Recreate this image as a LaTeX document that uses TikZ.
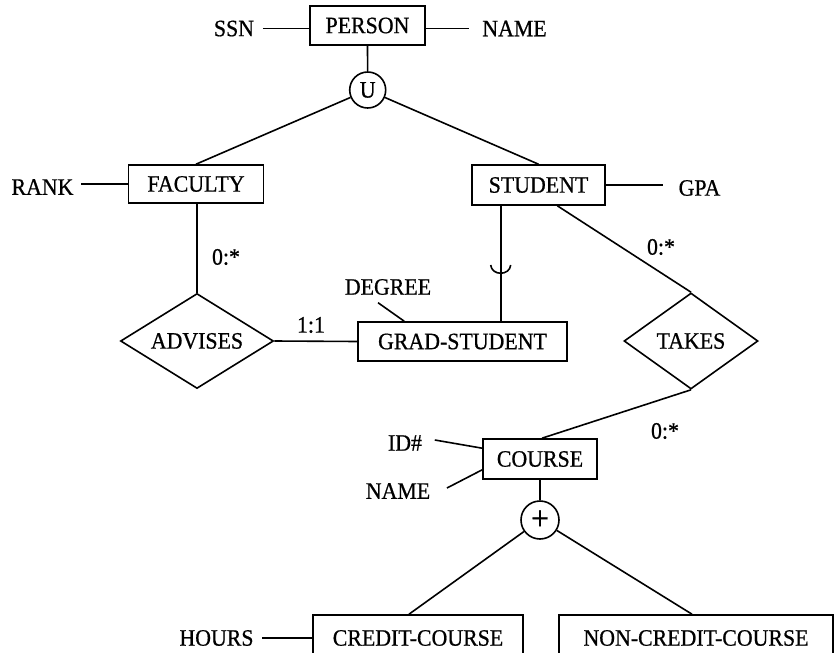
\documentclass[tikz,border=0pt]{standalone}
\usepackage{fontspec}
\setmainfont{Liberation Serif}[FakeBold=0.7,FakeStretch=0.93]
\usetikzlibrary{shapes.geometric,calc}
\begin{document}
\begin{tikzpicture}[x=1pt,y=-1pt,line width=1.6pt,
  every node/.style={font=\fontsize{23.5}{27}\selectfont},
  entity/.style={draw,rectangle,inner sep=0pt},
  rel/.style={draw,diamond,inner sep=0pt},
  gen/.style={draw,circle,inner sep=0pt},
  attr/.style={inner sep=0pt},
  card/.style={inner sep=0pt}]
\clip (0,0) rectangle (836,653);

% entities
\node[entity,minimum width=115pt,minimum height=39pt] (person) at (367.5,25.5) {PERSON};
\node[entity,minimum width=135pt,minimum height=38pt] (fac) at (196,184) {FACULTY};
\node[entity,minimum width=133pt,minimum height=40pt] (stu) at (538.5,185) {STUDENT};
\node[entity,minimum width=209pt,minimum height=39pt] (grad) at (462.5,341.5) {GRAD-STUDENT};
\node[entity,minimum width=114pt,minimum height=40pt] (course) at (540,459) {COURSE};
\node[entity,minimum width=210pt,minimum height=46pt] (cc) at (418,638) {CREDIT-COURSE};
\node[entity,minimum width=274pt,minimum height=46pt] (ncc) at (696,638) {NON-CREDIT-COURSE};

% relationships
\node[rel,aspect=1.6,minimum width=153pt,minimum height=95pt] (adv) at (197,341) {ADVISES};
\node[rel,aspect=1.4,minimum width=134pt,minimum height=96pt] (takes) at (691,341) {TAKES};

% generalisation circles
\node[gen,minimum size=36pt] (U) at (367.7,90) {U};
\node[gen,minimum size=38pt,font=\fontsize{34}{34}\selectfont] (plus) at (540,520) {+};

% attributes
\node[attr] (ssn) at (234,28.5) {SSN};
\node[attr] (pname) at (514.5,28.5) {NAME};
\node[attr] (rank) at (42.5,187) {RANK};
\node[attr] (gpa) at (699.5,188) {GPA};
\node[attr] (deg) at (388,287) {DEGREE};
\node[attr] (id) at (405,443) {ID\#};
\node[attr] (cname) at (398,491) {NAME};
\node[attr] (hours) at (216.5,638) {HOURS};

% cardinalities
\node[card] (c1) at (226,257) {0:*};
\node[card] (c2) at (311,325) {1:1};
\node[card] (c3) at (661,247) {0:*};
\node[card] (c4) at (665,431) {0:*};

% attribute links
\draw[shorten <=8pt] (ssn.east) -- (ssn.east -| person.west);
\draw[shorten >=13pt] (pname.west -| person.east) -- (pname.west);
\draw[shorten >=7pt] (fac.west) -- (fac.west -| rank.east);
\draw[shorten >=15pt] (stu.east) -- (stu.east -| gpa.west);
\draw ([xshift=-10pt,yshift=-7pt]deg.south) -- ([xshift=47pt]grad.north west);
\draw ([xshift=12pt,yshift=3pt]id.east) -- ([yshift=-10pt]course.north west);
\draw ([xshift=16pt,yshift=3pt]cname.east) -- ([yshift=10pt]course.south west);
\draw[shorten <=8pt] (hours.east) -- (hours.east -| cc.west);

% generalisation of PERSON
\draw (person.south) -- (U);
\draw (U) -- (fac.north);
\draw (U) -- (stu.north);

% ADVISES
\draw (fac.south -| adv.north) -- (adv.north);
\draw (adv.east) -- (grad.west);

% subset link STUDENT -> GRAD-STUDENT
\coordinate (sg) at (500.7,265);
\draw (stu.south -| sg) -- (grad.north -| sg);
\draw ([xshift=-10pt]sg) .. controls ([xshift=-9pt,yshift=-11pt]sg) and ([xshift=9pt,yshift=-11pt]sg) .. ([xshift=10pt]sg);

% TAKES
\draw ($(stu.south west)!0.64!(stu.south east)$) -- (takes.north);
\draw (takes.south) -- ([xshift=2pt]course.north);

% subclasses of COURSE
\draw (course.south) -- (plus);
\draw (plus) -- ([xshift=-9pt]cc.north);
\draw (plus) -- ([xshift=-4pt]ncc.north);
\end{tikzpicture}
\end{document}
